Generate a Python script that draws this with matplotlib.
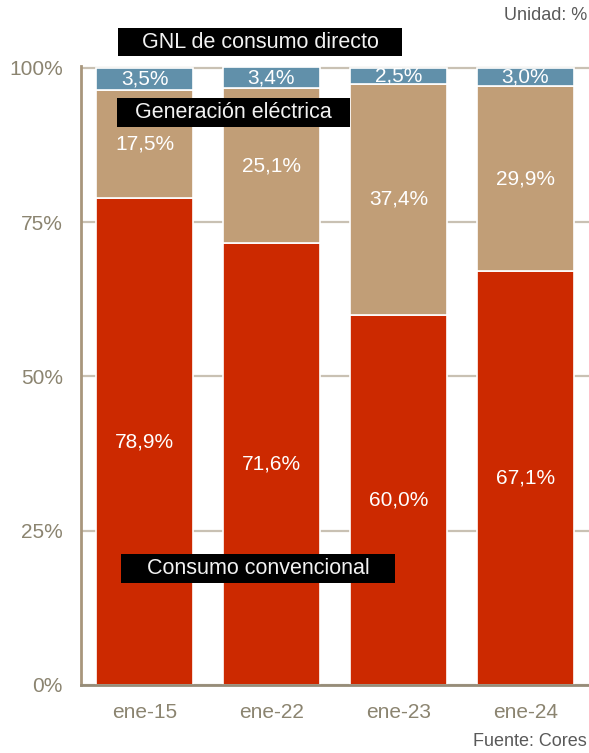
import matplotlib.pyplot as plt
from matplotlib.patches import Rectangle
import numpy as np

plt.rcParams['font.family'] = ['Liberation Sans', 'DejaVu Sans']

categories = ['ene-15', 'ene-22', 'ene-23', 'ene-24']
convencional = [78.9, 71.6, 60.0, 67.1]
generacion = [17.5, 25.1, 37.4, 29.9]
gnl_directo = [3.5, 3.4, 2.5, 3.0]
yticks = [0, 25, 50, 75, 100]

c_red = '#CC2900'
c_tan = '#C19E77'
c_blue = '#6190AA'
c_tick = '#8B8470'

W, H = 589, 753
fig = plt.figure(figsize=(W / 100, H / 100), dpi=100)
ax = fig.add_axes([81 / W, 68 / H, 1 - 81 / W, 619 / H])

x = np.arange(len(categories))
conv = np.array(convencional)
gen = np.array(generacion)
gnl = np.array(gnl_directo)

bw = 0.77
ax.bar(x, conv, width=bw, color=c_red, edgecolor='white', linewidth=1.2, zorder=3)
ax.bar(x, gen, width=bw, bottom=conv, color=c_tan, edgecolor='white', linewidth=1.2, zorder=3)
ax.bar(x, gnl, width=bw, bottom=conv + gen, color=c_blue, edgecolor='white', linewidth=1.2, zorder=3)

def fmt(v):
    return f'{v:.1f}'.replace('.', ',') + '%'

for i in x:
    ax.text(i, conv[i] / 2, fmt(conv[i]), ha='center', va='center', color='white', fontsize=15, zorder=4)
    ax.text(i, conv[i] + gen[i] / 2, fmt(gen[i]), ha='center', va='center', color='white', fontsize=15, zorder=4)
    ax.text(i, conv[i] + gen[i] + gnl[i] / 2, fmt(gnl[i]), ha='center', va='center', color='white', fontsize=15, zorder=4)

ax.set_xlim(-0.5, 3.5)
ax.set_ylim(0, 100.3)
ax.set_yticks(yticks)
ax.set_yticklabels([f'{t}%' for t in yticks])
ax.set_xticks(x)
ax.set_xticklabels(categories)
ax.tick_params(axis='both', length=0, labelsize=15, labelcolor=c_tick)
ax.tick_params(axis='y', pad=13)
ax.tick_params(axis='x', pad=13)

ax.yaxis.grid(True, color='#C9C1B3', linewidth=1.6, zorder=0)
ax.set_axisbelow(True)
for s in ['top', 'right']:
    ax.spines[s].set_visible(False)
ax.spines['left'].set_color('#A8967C')
ax.spines['left'].set_linewidth(2)
ax.spines['bottom'].set_color('#968C78')
ax.spines['bottom'].set_linewidth(2)
ax.spines['bottom'].set_zorder(5)

# cajas negras con el nombre de cada serie
boxes = [
    ('GNL de consumo directo', 118, 28, 402, 56),
    ('Generación eléctrica', 117, 98, 350, 127),
    ('Consumo convencional', 121, 554, 395, 583),
]
for label, x0, y0, x1, y1 in boxes:
    fig.add_artist(Rectangle((x0 / W, 1 - y1 / H), (x1 - x0) / W, (y1 - y0) / H,
                             transform=fig.transFigure, facecolor='black', edgecolor='none', zorder=6))
    fig.text((x0 + x1) / 2 / W, 1 - (y0 + y1) / 2 / H, label, ha='center', va='center',
             color='#F2F2F2', fontsize=15.5, zorder=7)

fig.text(587 / W, 1 - 16 / H, 'Unidad: %', ha='right', va='center', color='#595959', fontsize=13)
fig.text(587 / W, 1 - 741 / H, 'Fuente: Cores', ha='right', va='center', color='#595959', fontsize=13)

fig.savefig('out.png', dpi=100)
